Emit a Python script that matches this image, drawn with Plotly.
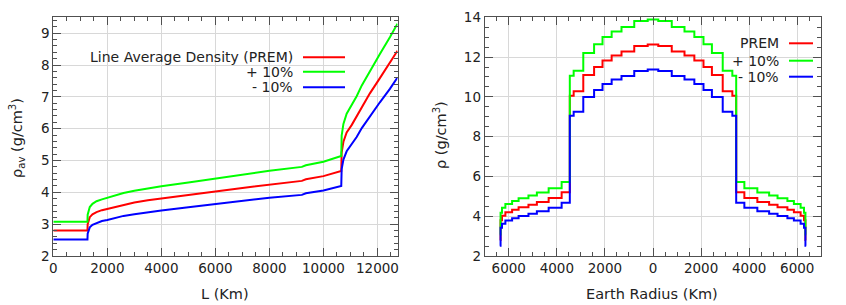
import plotly.graph_objects as go

# ---------------- data: left panel (line-average density vs baseline) ----------------
L_km = [0, 1265, 1272, 1300, 1350, 1450, 1600, 1800, 2000, 2300, 2600, 3000, 3500, 4000,
        5000, 6000, 7000, 8000, 9200, 9350, 10000, 10660, 10675, 10740, 10860, 11050,
        11230, 11420, 11720, 12090, 12460, 12742]
rho_av_prem = [2.80, 2.80, 3.00, 3.12, 3.22, 3.31, 3.38, 3.44, 3.48, 3.55, 3.62, 3.68, 3.75, 3.81,
               3.92, 4.03, 4.14, 4.25, 4.36, 4.41, 4.51, 4.67, 5.25, 5.59, 5.88, 6.12,
               6.38, 6.69, 7.11, 7.59, 8.06, 8.45]
rho_av_plus = [3.08, 3.08, 3.30, 3.43, 3.54, 3.64, 3.72, 3.78, 3.83, 3.91, 3.98, 4.05, 4.13, 4.19,
               4.31, 4.43, 4.55, 4.68, 4.80, 4.85, 4.96, 5.14, 5.78, 6.15, 6.47, 6.73,
               7.02, 7.36, 7.82, 8.35, 8.87, 9.30]
rho_av_minus = [2.52, 2.52, 2.70, 2.81, 2.90, 2.98, 3.04, 3.10, 3.13, 3.20, 3.26, 3.31, 3.38, 3.43,
                3.53, 3.63, 3.73, 3.83, 3.92, 3.97, 4.06, 4.20, 4.73, 5.03, 5.29, 5.51,
                5.74, 6.02, 6.40, 6.83, 7.25, 7.61]

# ---------------- data: right panel (layered density vs radius) ----------------
# outer radius (km) of each shell, from the centre outwards; first shell spans the centre
shell_outer_r = [220, 780, 1310, 1720, 2100, 2450, 2900, 3300, 3460, 3800, 4340, 4830,
                 5180, 5590, 5860, 6140, 6280, 6340, 6371]
rho_prem = [12.63, 12.56, 12.28, 12.08, 11.83, 11.50, 11.10, 10.28, 10.05, 5.20, 4.92, 4.72,
            4.58, 4.45, 4.33, 4.20, 4.02, 3.80, 2.80]
rho_plus = [13.89, 13.82, 13.51, 13.29, 13.01, 12.65, 12.21, 11.31, 11.06, 5.72, 5.41, 5.19,
            5.04, 4.90, 4.76, 4.62, 4.42, 4.18, 3.08]
rho_minus = [11.37, 11.30, 11.05, 10.87, 10.65, 10.35, 9.99, 9.25, 9.05, 4.68, 4.43, 4.25,
             4.12, 4.01, 3.90, 3.78, 3.62, 3.42, 2.52]

radius_tickvals = [-6000, -4000, -2000, 0, 2000, 4000, 6000]
radius_ticktext = ["6000", "4000", "2000", "0", "2000", "4000", "6000"]

series_names_left = ["Line Average Density (PREM)", "+ 10%", "- 10%"]
series_names_right = ["PREM", "+ 10%", "- 10%"]
colors = ["#ff0000", "#00ff00", "#0000ff"]


def mirrored_steps(outer, vals):
    """Build an hv step path across the whole diameter from one radial profile."""
    xs = [-outer[-1]] + [-r for r in reversed(outer[:-1])] + outer
    ys = list(reversed(vals)) + vals[1:] + [vals[-1]]
    return xs, ys


W, H = 846, 305
FONT = "DejaVu Sans"
BORDER = "#505050"
GRID = "#d8d8d8"


def px(x):
    return x / W


def py(y):
    return 1 - y / H


fig = go.Figure()

for name, ys, c in zip(series_names_left, [rho_av_prem, rho_av_plus, rho_av_minus], colors):
    fig.add_trace(go.Scatter(x=L_km, y=ys, mode="lines", name=name,
                             line=dict(color=c, width=2), xaxis="x", yaxis="y",
                             showlegend=False))

for name, vals, c in zip(series_names_right, [rho_prem, rho_plus, rho_minus], colors):
    xs, ys = mirrored_steps(shell_outer_r, vals)
    fig.add_trace(go.Scatter(x=xs, y=ys, mode="lines", name=name,
                             line=dict(color=c, width=2, shape="hv"), xaxis="x2", yaxis="y2",
                             showlegend=False))

common_axis = dict(showline=True, linecolor=BORDER, linewidth=1, mirror="ticks",
                   ticks="inside", ticklen=8, tickcolor=BORDER, tickwidth=1,
                   showgrid=True, gridcolor=GRID, gridwidth=1, zeroline=False,
                   tickfont=dict(family=FONT, size=13.5, color="#222222"),
                   automargin=False)

fig.update_layout(
    width=W, height=H,
    margin=dict(l=0, r=0, t=0, b=0),
    paper_bgcolor="white", plot_bgcolor="white",
    font=dict(family=FONT, color="#222222"),
    xaxis=dict(domain=[px(53.3), px(397.5)], range=[0, 12742], anchor="y",
               dtick=2000, tick0=0, tickformat="d",
               minor=dict(dtick=500, tick0=0, ticklen=4, tickcolor=BORDER, ticks="inside",
                          showgrid=False),
               **common_axis),
    yaxis=dict(domain=[py(256), py(17.3)], range=[2, 9.5], anchor="x",
               dtick=1, tick0=0,
               minor=dict(dtick=0.2, tick0=0, ticklen=4, tickcolor=BORDER, ticks="inside",
                          showgrid=False),
               **common_axis),
    xaxis2=dict(domain=[px(484.7), px(821.3)], range=[-7000, 7000], anchor="y2",
                tickmode="array", tickvals=radius_tickvals, ticktext=radius_ticktext,
                minor=dict(tickmode="linear", dtick=500, tick0=0, ticklen=4, tickcolor=BORDER,
                           ticks="inside", showgrid=False),
                **common_axis),
    yaxis2=dict(domain=[py(256), py(17.3)], range=[2, 14], anchor="x2",
                dtick=2, tick0=0,
                minor=dict(dtick=0.5, tick0=0, ticklen=4, tickcolor=BORDER, ticks="inside",
                           showgrid=False),
                **common_axis),
)

ann_font = dict(family=FONT, size=14, color="#222222")
title_font = dict(family=FONT, size=14.5, color="#222222")
annotations = [
    dict(text="L (Km)", x=px(225), y=py(293.5)),
    dict(text="Earth Radius (Km)", x=px(652), y=py(293.5)),
    dict(text="ρ<sub>av</sub> (g/cm<sup>3</sup>)", x=px(17), y=py(138), textangle=-90),
    dict(text="ρ (g/cm<sup>3</sup>)", x=px(440), y=py(135), textangle=-90),
]
for a in annotations:
    fig.add_annotation(xref="paper", yref="paper", showarrow=False,
                       xanchor="center", yanchor="middle", font=title_font, **a)

# legend keys (gnuplot style: right-aligned text, sample line to the right)
left_rows = [57.3, 71.7, 87.3]
right_rows = [43.3, 60.7, 76.7]
for names, rows, tx, lx0, lx1 in [(series_names_left, left_rows, 295, 303, 345),
                                  (series_names_right, right_rows, 780.7, 789, 813)]:
    for name, yy, c in zip(names, rows, colors):
        fig.add_annotation(xref="paper", yref="paper", showarrow=False, text=name,
                           x=px(tx), y=py(yy), xanchor="right", yanchor="middle",
                           font=ann_font)
        fig.add_shape(type="line", xref="paper", yref="paper",
                      x0=px(lx0), x1=px(lx1), y0=py(yy), y1=py(yy),
                      line=dict(color=c, width=2))

fig.write_html("out.html", config={"displayModeBar": False},
               post_script="document.body.style.margin='0';document.body.style.padding='0';")
